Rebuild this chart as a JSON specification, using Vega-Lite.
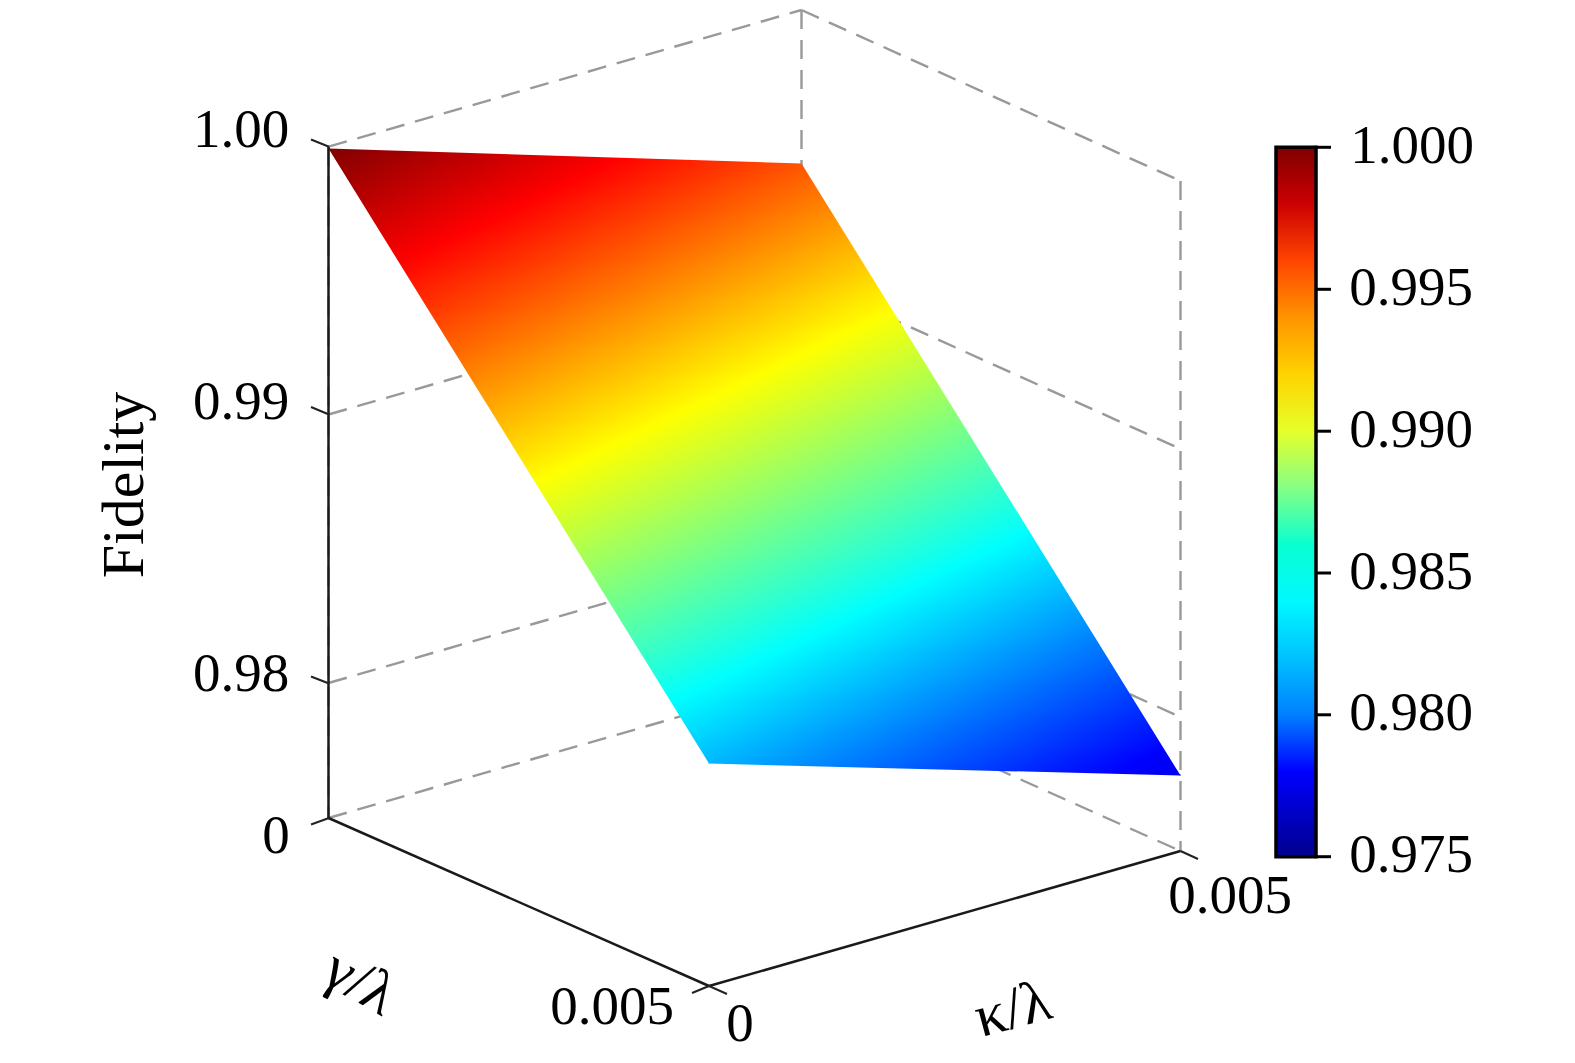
{
"$schema":"https://vega.github.io/schema/vega-lite/v6.json",
"autosize":{"type":"fit","contains":"padding"},
"width":1575,"height":1063,"padding":0,
"background":"white",
"view":{"stroke":null},
"config":{"font":"Liberation Serif"},
"datasets":{
"grid":[
{"x":328.5,"y":146.7,"x2":801.5,"y2":10},
{"x":801.5,"y":10,"x2":1180.5,"y2":181},
{"x":328.5,"y":414.5,"x2":801.5,"y2":278},
{"x":801.5,"y":278,"x2":1180.5,"y2":449},
{"x":328.5,"y":683,"x2":801.5,"y2":546.5},
{"x":801.5,"y":546.5,"x2":1180.5,"y2":717},
{"x":328.5,"y":818,"x2":801.5,"y2":681.5},
{"x":801.5,"y":681.5,"x2":1180.5,"y2":851},
{"x":801.5,"y":10,"x2":801.5,"y2":681.5},
{"x":1180.5,"y":181,"x2":1180.5,"y2":851},
{"x":328.5,"y":146.7,"x2":328.5,"y2":818}
],
"surface":[
{"x":328.5,"top":148.5,"bottom":148.5},
{"x":709,"top":160.6,"bottom":763.5},
{"x":801.5,"top":163.5,"bottom":765.9},
{"x":1180.5,"top":775.5,"bottom":775.5}
],
"corners":[
{"x":329,"y":149,"fidelity":1.0},
{"x":801,"y":164,"fidelity":0.9947},
{"x":709,"y":763,"fidelity":0.9825},
{"x":1180,"y":775,"fidelity":0.9772}
],
"axes":[
{"x":328.5,"y":146.7,"x2":328.5,"y2":818},
{"x":328.5,"y":818,"x2":709,"y2":986},
{"x":709,"y":986,"x2":1180.5,"y2":851}
],
"ticks":[
{"x":311,"y":139.5,"x2":329,"y2":146.7},
{"x":311,"y":407,"x2":329,"y2":414.5},
{"x":311,"y":676.5,"x2":329,"y2":683.5},
{"x":311,"y":824.5,"x2":329,"y2":818},
{"x":692,"y":993,"x2":709,"y2":986},
{"x":709,"y":986,"x2":727,"y2":994},
{"x":1180.5,"y":851,"x2":1198,"y2":859}
],
"barticks":[
{"x":1314,"x2":1331,"y":147.3},
{"x":1314,"x2":1331,"y":289.3},
{"x":1314,"x2":1331,"y":431.2},
{"x":1314,"x2":1331,"y":573},
{"x":1314,"x2":1331,"y":714.8},
{"x":1314,"x2":1331,"y":856.7}
],
"labels":[
{"x":241,"y":130,"t":"1.00"},
{"x":241,"y":402,"t":"0.99"},
{"x":241,"y":674,"t":"0.98"},
{"x":276,"y":836,"t":"0"},
{"x":612,"y":1007,"t":"0.005"},
{"x":740,"y":1024,"t":"0"},
{"x":1230,"y":896,"t":"0.005"},
{"x":1412,"y":146,"t":"1.000"},
{"x":1411,"y":288,"t":"0.995"},
{"x":1411,"y":430,"t":"0.990"},
{"x":1411,"y":572,"t":"0.985"},
{"x":1411,"y":713,"t":"0.980"},
{"x":1411,"y":855,"t":"0.975"}
],
"titles":[
{"x":125,"y":485,"t":"Fidelity","a":270},
{"x":360,"y":983,"t":"γ/λ","a":30},
{"x":1013,"y":1010,"t":"κ/λ","a":345}
]
},
"layer":[
{"data":{"name":"grid"},"mark":{"type":"rule","color":"#999999","strokeWidth":2.4,"strokeDash":[19,11]},
 "encoding":{"x":{"field":"x","type":"quantitative","scale":{"domain":[0,1575],"nice":false,"zero":false},"axis":null},
 "y":{"field":"y","type":"quantitative","scale":{"domain":[1063,0],"nice":false,"zero":false},"axis":null},"x2":{"field":"x2"},"y2":{"field":"y2"}}},
{"data":{"name":"surface"},"mark":{"type":"area","interpolate":"linear","color":{"gradient":"linear","x1":0,"y1":0,"x2":0.757,"y2":1.164,
 "stops":[{"offset":0,"color":"#800000"},{"offset":0.1425,"color":"#ff0000"},{"offset":0.4167,"color":"#ffff00"},{"offset":0.6908,"color":"#00ffff"},{"offset":0.9649,"color":"#0000ff"},{"offset":1,"color":"#0000ee"}]}},
 "encoding":{"x":{"field":"x","type":"quantitative","axis":null},"y":{"field":"top","type":"quantitative","axis":null},"y2":{"field":"bottom"}}},
{"data":{"name":"corners"},"mark":{"type":"point","filled":true,"size":2,"opacity":1},
 "encoding":{"x":{"field":"x","type":"quantitative","axis":null},"y":{"field":"y","type":"quantitative","axis":null},
 "color":{"field":"fidelity","type":"quantitative",
  "scale":{"domain":[0.975,0.978,0.98425,0.9905,0.99675,1.0],"range":["#00008f","#0000ff","#00ffff","#ffff00","#ff0000","#800000"],"clamp":true},
  "legend":{"orient":"none","legendX":1276,"legendY":147.3,"title":null,"direction":"vertical","gradientLength":709.4,"gradientThickness":40,"gradientStrokeColor":"#000000","gradientStrokeWidth":3.5,
   "values":[0.975,1.0],"labelExpr":"''","labelFontSize":1,"labelOverlap":false}}}},
{"data":{"name":"axes"},"mark":{"type":"rule","color":"#1a1a1a","strokeWidth":2.5},
 "encoding":{"x":{"field":"x","type":"quantitative","axis":null},"y":{"field":"y","type":"quantitative","axis":null},"x2":{"field":"x2"},"y2":{"field":"y2"}}},
{"data":{"name":"ticks"},"mark":{"type":"rule","color":"#222222","strokeWidth":2},
 "encoding":{"x":{"field":"x","type":"quantitative","axis":null},"y":{"field":"y","type":"quantitative","axis":null},"x2":{"field":"x2"},"y2":{"field":"y2"}}},
{"data":{"name":"barticks"},"mark":{"type":"rule","color":"#000000","strokeWidth":3},
 "encoding":{"x":{"field":"x","type":"quantitative","axis":null},"x2":{"field":"x2"},"y":{"field":"y","type":"quantitative","axis":null}}},
{"data":{"name":"labels"},"mark":{"type":"text","font":"Liberation Serif","fontSize":55,"color":"#000000","align":"center","baseline":"middle"},
 "encoding":{"x":{"field":"x","type":"quantitative","axis":null},"y":{"field":"y","type":"quantitative","axis":null},"text":{"field":"t","type":"nominal"}}},
{"data":{"name":"titles"},"mark":{"type":"text","font":"Liberation Serif","fontSize":60,"color":"#000000","align":"center","baseline":"middle"},
 "encoding":{"x":{"field":"x","type":"quantitative","axis":null},"y":{"field":"y","type":"quantitative","axis":null},"text":{"field":"t","type":"nominal"},"angle":{"field":"a","type":"quantitative","scale":null}}}
]
}
